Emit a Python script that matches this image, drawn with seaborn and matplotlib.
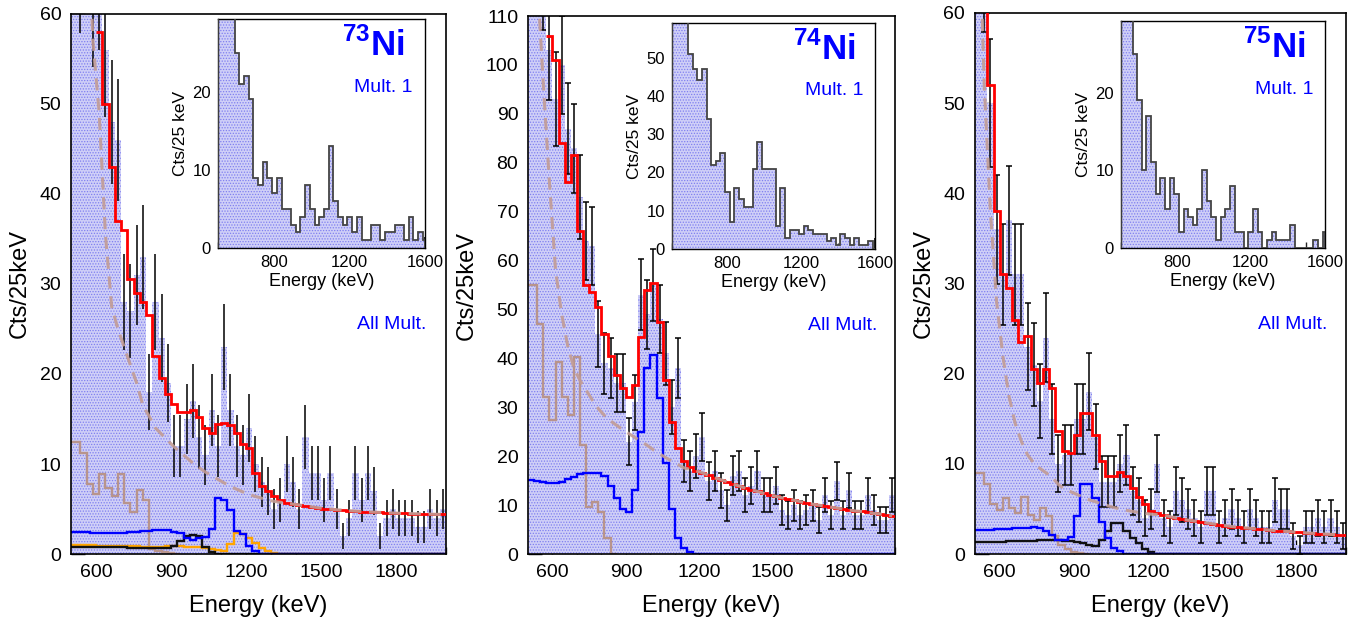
import numpy as np
import matplotlib
matplotlib.use("Agg")
import matplotlib.pyplot as plt
from matplotlib.ticker import MultipleLocator, FixedLocator
import seaborn as sns

sns.set_theme(style="ticks")
plt.rcParams["font.family"] = ["Liberation Sans", "DejaVu Sans"]
plt.rcParams["mathtext.fontset"] = "custom"
plt.rcParams["mathtext.rm"] = "Liberation Sans"
plt.rcParams["mathtext.bf"] = "Liberation Sans:bold"
plt.rcParams["hatch.linewidth"] = 0.6
plt.rcParams["hatch.color"] = "#7f7ff0"

nan = np.nan

# ---------------- 73Ni (all multiplicities, 25 keV bins 500-2000) ----------------
ni73_data = [72, 66, 70, 62, 64, 56, 48, 46, 28, 27, 31, 33, 18, 28, 24, 19, 12, 12, 15, 17,
             13, 11, 16, 12, 23, 16, 12, 11, 14, 10, 8, 7, 5, 6, 10, 8, 5, 13, 9, 9,
             6, 9, 5, 2, 4, 9, 6, 9, 7, 2, 4, 5, 4, 4, 4, 3, 3, 5, 4, 5]
ni73_total = [nan, nan, nan, nan, 58, 50, 43, 37, 36, 30.5, 29, 28, 26.5, 22, 19.5, 17.8, 16.7, 15.8, 15.8, 16,
              15.2, 14.0, 13.4, 14.5, 14.6, 14.3, 13.5, 12.2, 11.8, 9.0, 7.6, 7.0, 6.4, 6.0, 5.65, 5.55, 5.45, 5.35, 5.25, 5.15,
              5.05, 4.98, 4.92, 4.87, 4.82, 4.77, 4.72, 4.69, 4.65, 4.62, 4.59, 4.56, 4.53, 4.51, 4.49, 4.47, 4.45, 4.43, 4.41, 4.4]
ni73_bkg = [nan, nan, 75, 57, 49, 35.5, 27.5, 25, 23, 21, 19, 16.5, 15.3, 14, 13.3, 12.6, 11.9, 11.3, 10.7, 10.1,
            9.6, 9.1, 8.7, 8.3, 7.9, 7.5, 7.2, 6.9, 6.6, 6.4, 6.2, 6.0, 5.85, 5.75, 5.65, 5.55, 5.45, 5.35, 5.25, 5.15,
            5.05, 4.98, 4.92, 4.87, 4.82, 4.77, 4.72, 4.69, 4.65, 4.62, 4.59, 4.56, 4.53, 4.51, 4.49, 4.47, 4.45, 4.43, 4.41, 4.4]
ni73_blue = [2.5, 2.4, 2.4, 2.3, 2.3, 2.3, 2.3, 2.3, 2.3, 2.4, 2.5, 2.6, 2.6, 2.7, 2.7, 2.7, 2.5, 2.3, 1.8, 1.6,
             1.8, 1.9, 2.8, 6.2, 6.0, 4.9, 2.6, 2.2, 0.9, 0.3, 0, 0, 0, 0, 0, 0, 0, 0, 0, 0,
             0, 0, 0, 0, 0, 0, 0, 0, 0, 0, 0, 0, 0, 0, 0, 0, 0, 0, 0, 0]
ni73_black = [0.8, 0.8, 0.8, 0.8, 0.8, 0.8, 0.75, 0.75, 0.75, 0.7, 0.7, 0.7, 0.7, 0.7, 0.7, 0.7, 0.9, 1.4, 2.0, 2.1,
              2.0, 0.8, 0.2, 0, 0, 0, 0, 0, 0, 0, 0, 0, 0, 0, 0, 0, 0, 0, 0, 0,
              0, 0, 0, 0, 0, 0, 0, 0, 0, 0, 0, 0, 0, 0, 0, 0, 0, 0, 0, 0]
ni73_orange = [1.0, 1.0, 0.95, 0.95, 0.9, 0.9, 0.9, 0.85, 0.85, 0.85, 0.85, 0.8, 0.8, 0.8, 0.8, 0.85, 0.85, 0.85, 0.8, 0.8,
               0.75, 0.65, 0.55, 0.4, 0.3, 1.1, 2.3, 2.2, 1.8, 1.2, 0.7, 0.3, 0.1, 0, 0, 0, 0, 0, 0, 0,
               0, 0, 0, 0, 0, 0, 0, 0, 0, 0, 0, 0, 0, 0, 0, 0, 0, 0, 0, 0]
ni73_brown = [12.5, 11.2, 7.8, 6.7, 8.9, 7.3, 6.4, 8.9, 5.7, 4.7, 7.1, 6.0, 0.6, 0.3, 0.2, 0.1, 0]
ni73_mult1 = [40, 38, 34, 31, 25, 21, 22, 19, 9, 8, 11, 9, 7, 9, 5, 5, 3, 2, 4, 8,
              5, 3, 4, 5, 13, 6, 4, 3, 4, 2, 4, 1, 1, 3, 3, 1, 2, 2, 3, 3,
              1, 4, 1, 2, 1]

# ---------------- 74Ni ----------------
ni74_data = [130, 125, 118, 103, 93, 100, 87, 83, 73, 64, 63, 45, 39, 38, 35, 35, 23, 31, 53, 49,
             55, 48, 41, 30, 38, 19, 17, 20, 24, 15, 17, 13, 10, 16, 17, 12, 14, 17, 12, 12,
             14, 9, 8, 10, 8, 9, 10, 7, 12, 8, 15, 8, 13, 8, 8, 12, 9, 7, 7, 12]
ni74_total = [nan, nan, nan, 106, 101, 84, 76, 81.5, 66, 55, 53.5, 50.5, 45, 40.4, 36.6, 33.9, 32.2, 34.6, 44.4, 54,
              55.4, 47.5, 35.6, 27.0, 21.6, 19.0, 17.7, 17.0, 16.6, 16.1, 15.6, 15.2, 14.8, 14.3, 13.9, 13.5, 13.1, 12.8, 12.4, 12.1,
              11.8, 11.5, 11.2, 11.0, 10.7, 10.5, 10.2, 10.0, 9.8, 9.6, 9.4, 9.2, 9.0, 8.8, 8.7, 8.5, 8.3, 8.2, 8.0, 7.8]
ni74_bkg = [nan, 118, 96, 76, 58, 49, 42.5, 38, 35.5, 33.5, 31.5, 29.7, 28.3, 27.2, 26.3, 25.4, 24.6, 23.8, 23.0, 22.2,
            21.3, 20.5, 19.7, 19.0, 18.3, 17.6, 17.3, 17.0, 16.6, 16.1, 15.6, 15.2, 14.8, 14.3, 13.9, 13.5, 13.1, 12.8, 12.4, 12.1,
            11.8, 11.5, 11.2, 11.0, 10.7, 10.5, 10.2, 10.0, 9.8, 9.6, 9.4, 9.2, 9.0, 8.8, 8.7, 8.5, 8.3, 8.2, 8.0, 7.8]
ni74_blue = [15.1, 14.9, 14.7, 14.6, 14.6, 14.8, 15.3, 15.8, 16.3, 16.5, 16.6, 16.6, 16.0, 14.0, 11.5, 9.3, 8.6, 13.0, 25.0, 38.0,
             40.7, 32.0, 18.7, 9.2, 3.2, 1.2, 0.4, 0, 0, 0, 0, 0, 0, 0, 0, 0, 0, 0, 0, 0,
             0, 0, 0, 0, 0, 0, 0, 0, 0, 0, 0, 0, 0, 0, 0, 0, 0, 0, 0, 0]
ni74_brown = [55, 47, 32.2, 27.4, 39.3, 32.2, 28.5, 40.2, 22.3, 9.6, 10.6, 8.6, 3.2, 0]
ni74_mult1 = [70, 66, 62, 60, 51, 47, 44, 47, 34, 22, 23, 25, 15, 7, 16, 13, 11, 11, 21, 28,
              21, 21, 21, 6, 16, 3, 5, 5, 4, 6, 5, 4, 4, 4, 2, 3, 1, 4, 3, 1,
              3, 1, 1, 2, 0]

# ---------------- 75Ni ----------------
ni75_data = [70, 66, 50, 36, 31, 37, 31, 31, 23, 21, 17, 24, 15, 10, 11, 11, 15, 15, 18, 13,
             8, 8, 8, 10, 11, 7, 6, 4, 5, 10, 4, 3, 7, 6, 5, 4, 3, 7, 7, 3,
             4, 5, 4, 3, 5, 4, 3, 3, 6, 5, 5, 2, 1, 3, 3, 4, 3, 4, 3, 2]
ni75_total = [nan, 62, 52, 38, 31, 29.5, 26, 23.5, 24.2, 20.5, 19, 20.5, 18.4, 13.6, 11.4, 11.2, 13.2, 15.6, 15.6, 13.2,
              10.3, 8.7, 8.6, 9.1, 8.6, 7.3, 6.3, 5.5, 4.8, 4.5, 4.3, 4.15, 4.0, 3.85, 3.75, 3.65, 3.55, 3.45, 3.35, 3.25,
              3.15, 3.05, 2.98, 2.92, 2.85, 2.78, 2.72, 2.66, 2.6, 2.55, 2.5, 2.45, 2.4, 2.35, 2.3, 2.26, 2.22, 2.18, 2.14, 2.1]
ni75_bkg = [75, 52, 38, 28, 22, 17.5, 14.5, 12.5, 11.0, 10.1, 9.5, 9.0, 8.5, 7.7, 7.2, 6.9, 6.6, 6.3, 6.0, 5.8,
            5.55, 5.35, 5.15, 5.0, 4.85, 4.72, 4.6, 4.5, 4.42, 4.36, 4.3, 4.15, 4.0, 3.85, 3.75, 3.65, 3.55, 3.45, 3.35, 3.25,
            3.15, 3.05, 2.98, 2.92, 2.85, 2.78, 2.72, 2.66, 2.6, 2.55, 2.5, 2.45, 2.4, 2.35, 2.3, 2.26, 2.22, 2.18, 2.14, 2.1]
ni75_blue = [2.7, 2.7, 2.7, 2.75, 2.8, 2.8, 2.85, 2.9, 2.9, 2.95, 2.9, 2.6, 2.1, 1.5, 1.5, 1.9, 4.2, 7.8, 7.8, 6.2,
             3.6, 1.8, 0.7, 0.3, 0, 0, 0, 0, 0, 0, 0, 0, 0, 0, 0, 0, 0, 0, 0, 0,
             0, 0, 0, 0, 0, 0, 0, 0, 0, 0, 0, 0, 0, 0, 0, 0, 0, 0, 0, 0]
ni75_black = [1.3, 1.3, 1.35, 1.35, 1.35, 1.4, 1.4, 1.4, 1.45, 1.45, 1.5, 1.5, 1.5, 1.5, 1.45, 1.4, 1.3, 1.2, 1.0, 0.9,
              1.6, 2.5, 3.4, 3.4, 2.5, 1.8, 1.2, 0.6, 0.2, 0, 0, 0, 0, 0, 0, 0, 0, 0, 0, 0,
              0, 0, 0, 0, 0, 0, 0, 0, 0, 0, 0, 0, 0, 0, 0, 0, 0, 0, 0, 0]
ni75_brown = [9.0, 7.8, 5.6, 4.9, 6.2, 5.1, 4.5, 6.3, 4.3, 3.8, 5.1, 4.2, 2.0, 1.0, 0.5, 0.2, 0.1, 0]
ni75_mult1 = [42, 36, 31, 25, 19, 10, 17, 11, 7, 9, 5, 9, 7, 2, 5, 4, 3, 5, 10, 6,
              4, 1, 4, 5, 8, 2, 2, 0, 2, 5, 2, 0, 1, 2, 1, 1, 1, 3, 0, 0,
              0, 0, 1, 0, 2]

# bin edges
EDGES = np.arange(500, 2001, 25)
CENTERS = EDGES[:-1] + 12.5
INSET_EDGES = np.r_[500, np.arange(512.5, 1600, 25), 1600]


def brown_edges(n):
    # this component is binned half a bin off from the data
    return np.r_[500, 537.5 + 25 * np.arange(n)]


FILL = "#cfcff7"
BROWN = "#b8948c"
DASH = "#c29c95"


def dotted_fill(ax, vals, edges):
    # ROOT style dotted fill (light face + fine dot hatch)
    ax.stairs(vals, edges, fill=True, facecolor=FILL, edgecolor="#7f7ff0",
              hatch="......", linewidth=0, zorder=1)


def draw_curve(ax, vals, color, lw=2.0):
    vals = np.asarray(vals, dtype=float)
    first = int(np.argmax(~np.isnan(vals)))
    ax.stairs(vals[first:], EDGES[first:], baseline=None, color=color, lw=lw, zorder=4)


def style_frame(ax, lw):
    for sp in ax.spines.values():
        sp.set_visible(True)
        sp.set_color("black")
        sp.set_linewidth(lw)


panels = [
    dict(data=ni73_data, total=ni73_total, bkg=ni73_bkg, blue=ni73_blue, black=ni73_black,
         orange=ni73_orange, brown=ni73_brown, mult1=ni73_mult1, ymax=60, cap=0,
         iso="73", in_ymax=29.3, in_major=10,
         pos=[0.0524, 0.105, 0.2765, 0.8724], in_pos=[0.1608, 0.5994, 0.1527, 0.370]),
    dict(data=ni74_data, total=ni74_total, bkg=ni74_bkg, blue=ni74_blue, black=None,
         orange=None, brown=ni74_brown, mult1=ni74_mult1, ymax=110, cap=2.2,
         iso="74", in_ymax=59, in_major=10,
         pos=[0.3894, 0.105, 0.2707, 0.8691], in_pos=[0.4956, 0.5977, 0.1497, 0.3651]),
    dict(data=ni75_data, total=ni75_total, bkg=ni75_bkg, blue=ni75_blue, black=ni75_black,
         orange=None, brown=ni75_brown, mult1=ni75_mult1, ymax=60, cap=2.2,
         iso="75", in_ymax=29.2, in_major=10,
         pos=[0.7190, 0.105, 0.2736, 0.874], in_pos=[0.8267, 0.5994, 0.1504, 0.3667]),
]

fig = plt.figure(figsize=(13.56, 6.19), dpi=100)
fig.patch.set_facecolor("white")

for p in panels:
    ax = fig.add_axes(p["pos"])
    ax.set_facecolor("white")
    data = np.asarray(p["data"], dtype=float)

    dotted_fill(ax, data, EDGES)

    ax.stairs(p["brown"], brown_edges(len(p["brown"])), baseline=None, color=BROWN, lw=1.7, zorder=2)
    if p["orange"] is not None:
        ax.stairs(p["orange"], EDGES, baseline=None, color="#ffa500", lw=1.7, zorder=2)
    if p["black"] is not None:
        ax.stairs(p["black"], EDGES, baseline=None, color="#111111", lw=1.7, zorder=2)
    ax.stairs(p["blue"], EDGES, baseline=None, color="#0000ff", lw=1.7, zorder=2)

    ax.errorbar(CENTERS, data, yerr=np.sqrt(data), fmt="none", ecolor="black",
                elinewidth=1.1, capsize=p["cap"], capthick=1.1, zorder=3)

    draw_curve(ax, p["total"], "#ff0000", lw=2.0)
    sns.lineplot(x=CENTERS, y=p["bkg"], ax=ax, color=DASH, lw=2.2,
                 linestyle=(0, (4, 2.5)), alpha=0.9, zorder=5)

    ax.set_xlim(500, 2000)
    ax.set_ylim(0, p["ymax"])
    ax.xaxis.set_major_locator(FixedLocator([600, 900, 1200, 1500, 1800]))
    ax.xaxis.set_minor_locator(MultipleLocator(100))
    ax.yaxis.set_major_locator(MultipleLocator(10))
    ax.tick_params(which="major", direction="in", length=10, width=1, labelsize=14,
                   pad=7, top=False, right=False, colors="black")
    ax.tick_params(which="minor", direction="in", length=5, width=1, top=False, right=False)
    style_frame(ax, 1.2)
    ax.set_xlabel("Energy (keV)", fontsize=17, labelpad=10, color="black")
    ax.set_ylabel("Cts/25keV", fontsize=17, labelpad=6, color="black")
    ax.text(0.856, 0.425, "All Mult.", transform=ax.transAxes, color="#0000ff",
            fontsize=14, ha="center", va="center")

    # inset: multiplicity 1 spectrum
    ins = fig.add_axes(p["in_pos"])
    ins.set_facecolor("white")
    dotted_fill(ins, p["mult1"], INSET_EDGES)
    ins.stairs(p["mult1"], INSET_EDGES, baseline=0, color="#444444", lw=1.3, zorder=3)
    ins.set_xlim(500, 1600)
    ins.set_ylim(0, p["in_ymax"])
    ins.xaxis.set_major_locator(FixedLocator([800, 1200, 1600]))
    ins.xaxis.set_minor_locator(MultipleLocator(100))
    ins.yaxis.set_major_locator(MultipleLocator(p["in_major"]))
    ins.yaxis.set_minor_locator(MultipleLocator(5))
    ins.tick_params(which="major", direction="in", length=8, width=1.2, labelsize=12,
                    pad=5, top=False, right=False, colors="black")
    ins.tick_params(which="minor", direction="in", length=4, width=1, top=False, right=False)
    style_frame(ins, 1.0)
    ins.set_xlabel("Energy (keV)", fontsize=13, labelpad=2, color="black")
    ins.set_ylabel("Cts/25 keV", fontsize=12.5, labelpad=3, color="black")
    ins.text(0.75, 0.885, r"$^{\mathbf{" + p["iso"] + r"}}\mathbf{Ni}$", transform=ins.transAxes,
             color="#0000ff", fontsize=25, ha="center", va="center")
    ins.text(0.80, 0.70, "Mult. 1", transform=ins.transAxes, color="#0000ff",
             fontsize=14, ha="center", va="center")

fig.savefig("out.png", dpi=100, facecolor="white")
